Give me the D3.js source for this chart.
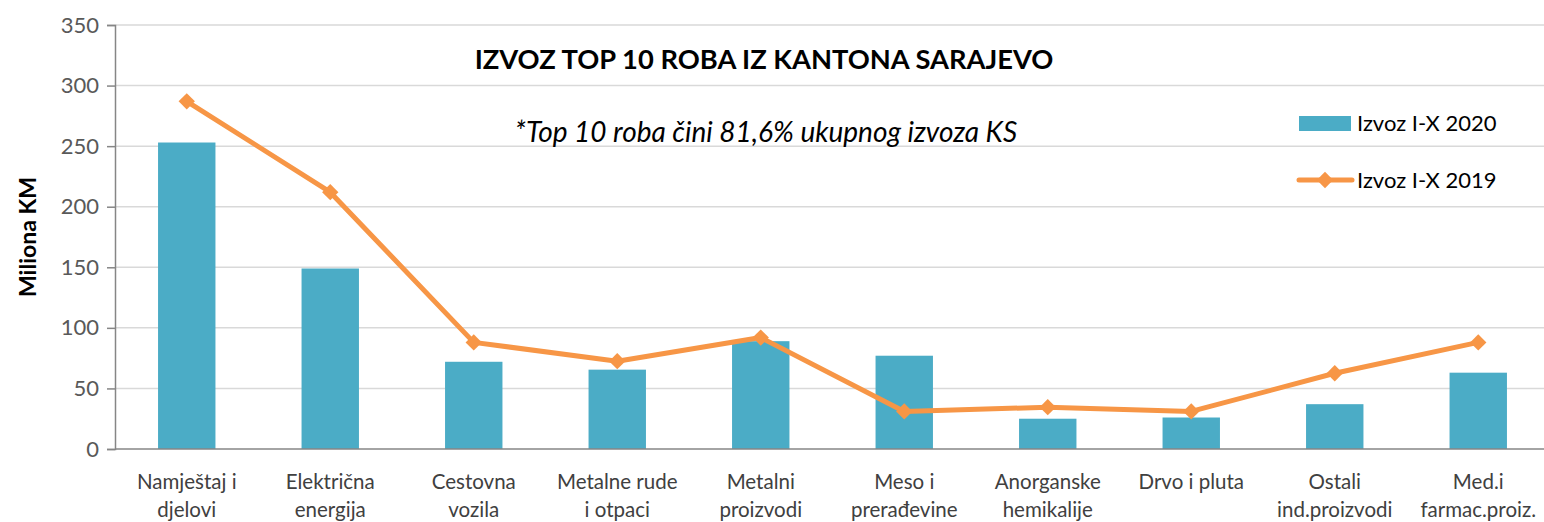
<html>
<head>
  <meta charset="utf-8">
  <script src="https://d3js.org/d3.v7.min.js"></script>
  <style>
    body { margin: 0; background: #fff; }
    text { font-family: Lato, "Open Sans", sans-serif; }
  </style>
</head>
<body>
  <div id="chart"></div>
  <script>
    // data
    var categories = [
      ["Namještaj i", "djelovi"],
      ["Električna", "energija"],
      ["Cestovna", "vozila"],
      ["Metalne rude", "i otpaci"],
      ["Metalni", "proizvodi"],
      ["Meso i", "prerađevine"],
      ["Anorganske", "hemikalije"],
      ["Drvo i pluta"],
      ["Ostali", "ind.proizvodi"],
      ["Med.i", "farmac.proiz."]
    ];
    var izvoz2020 = [253, 149, 72, 65.5, 89, 77, 25, 26, 37, 63];
    var izvoz2019 = [287, 212, 88, 72.5, 92, 31, 34.5, 31, 62.5, 88];
    var yTicks = [0, 50, 100, 150, 200, 250, 300, 350];

    var W = 1544, H = 522;
    var plotL = 115, plotR = 1550, plotT = 25, plotB = 449;

    var svg = d3.select('#chart').append('svg')
      .attr('width', W).attr('height', H);

    var x = d3.scaleBand().domain(d3.range(categories.length))
      .range([plotL, plotR]).paddingInner(0.6).paddingOuter(0.3);
    var y = d3.scaleLinear().domain([0, 350]).range([plotB, plotT]);

    // gridlines
    svg.append('g')
      .selectAll('line').data(yTicks.slice(1)).enter().append('line')
        .attr('x1', plotL).attr('x2', plotR)
        .attr('y1', function(d) { return y(d); })
        .attr('y2', function(d) { return y(d); })
        .attr('stroke', '#d9d9d9').attr('stroke-width', 1.5);

    // y axis
    var yAxis = svg.append('g')
      .attr('transform', 'translate(' + plotL + ',0)')
      .call(d3.axisLeft(y).tickValues(yTicks).tickSize(8).tickPadding(8));
    yAxis.select('.domain').attr('stroke', '#868686').attr('stroke-width', 1.5);
    yAxis.selectAll('.tick line').attr('stroke', '#868686').attr('stroke-width', 1.5);
    yAxis.selectAll('text').attr('fill', '#595959')
      .style('font-size', '22px').style('font-family', 'Lato, sans-serif');

    // bars
    svg.append('g')
      .selectAll('rect').data(izvoz2020).enter().append('rect')
        .attr('x', function(d, i) { return x(i); })
        .attr('y', function(d) { return y(d); })
        .attr('width', x.bandwidth())
        .attr('height', function(d) { return y(0) - y(d); })
        .attr('fill', '#4bacc6');

    // x axis line
    svg.append('line')
      .attr('x1', plotL).attr('x2', plotR)
      .attr('y1', y(0)).attr('y2', y(0))
      .attr('stroke', '#868686').attr('stroke-width', 1.5);

    // category labels
    var lab = svg.append('g')
      .selectAll('text').data(categories).enter().append('text')
        .attr('x', function(d, i) { return x(i) + x.bandwidth() / 2; })
        .attr('y', 489)
        .attr('text-anchor', 'middle')
        .attr('fill', '#404040')
        .style('font-size', '20.5px');
    lab.selectAll('tspan').data(function(d) { return d; }).enter().append('tspan')
      .attr('x', function() { return d3.select(this.parentNode).attr('x'); })
      .attr('dy', function(d, i) { return i ? 28 : 0; })
      .text(function(d) { return d; });

    // 2019 line
    var cx = function(d, i) { return x(i) + x.bandwidth() / 2; };
    var line = d3.line().x(cx).y(function(d) { return y(d); });
    svg.append('path').datum(izvoz2019)
      .attr('d', line)
      .attr('fill', 'none')
      .attr('stroke', '#f79646')
      .attr('stroke-width', 5)
      .attr('stroke-linejoin', 'round');

    var diamond = d3.symbol().type(d3.symbolDiamond2).size(170);
    svg.append('g')
      .selectAll('path').data(izvoz2019).enter().append('path')
        .attr('d', diamond)
        .attr('transform', function(d, i) { return 'translate(' + cx(d, i) + ',' + y(d) + ')'; })
        .attr('fill', '#f79646');

    // titles
    svg.append('text')
      .attr('x', 764).attr('y', 69)
      .attr('text-anchor', 'middle')
      .attr('fill', '#000')
      .style('font-size', '27.3px').style('font-weight', 'bold')
      .text('IZVOZ TOP 10 ROBA IZ KANTONA SARAJEVO');

    svg.append('text')
      .attr('x', 766).attr('y', 142)
      .attr('text-anchor', 'middle')
      .attr('fill', '#000')
      .style('font-size', '28px').style('font-style', 'italic')
      .text('*Top 10 roba čini 81,6% ukupnog izvoza KS');

    // y axis title
    svg.append('text')
      .attr('transform', 'translate(36,' + (plotT + plotB) / 2 + ') rotate(-90)')
      .attr('text-anchor', 'middle')
      .attr('fill', '#000')
      .style('font-size', '23px').style('font-weight', 'bold')
      .text('Miliona KM');

    // legend
    var legend = svg.append('g');
    legend.append('rect')
      .attr('x', 1299).attr('y', 116).attr('width', 52).attr('height', 15)
      .attr('fill', '#4bacc6');
    legend.append('text')
      .attr('x', 1357).attr('y', 131)
      .style('font-size', '22px').attr('fill', '#000')
      .text('Izvoz I-X 2020');
    legend.append('line')
      .attr('x1', 1299).attr('x2', 1352).attr('y1', 180).attr('y2', 180)
      .attr('stroke', '#f79646').attr('stroke-width', 5).attr('stroke-linecap', 'round');
    legend.append('path')
      .attr('d', diamond)
      .attr('transform', 'translate(1325,180)')
      .attr('fill', '#f79646');
    legend.append('text')
      .attr('x', 1357).attr('y', 188)
      .style('font-size', '22px').attr('fill', '#000')
      .text('Izvoz I-X 2019');
  </script>
</body>
</html>
